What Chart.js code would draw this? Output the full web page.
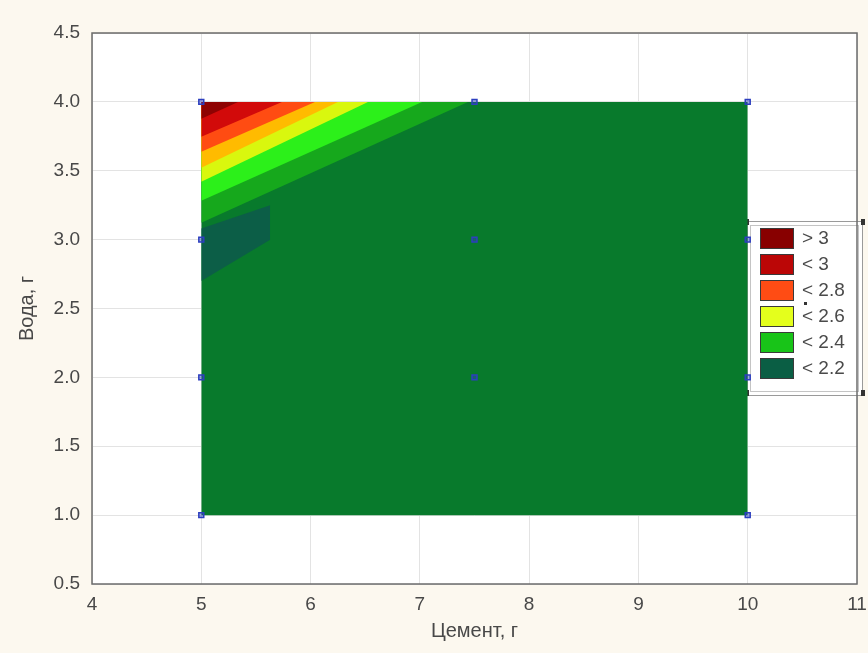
<!DOCTYPE html>
<html>
<head>
<meta charset="utf-8">
<script src="https://cdn.jsdelivr.net/npm/chart.js@4/dist/chart.umd.min.js"></script>
<style>
  body { margin: 0; background: #fcf8ef; }
  canvas { display: block; }
</style>
</head>
<body>
<canvas id="contourChart" width="868" height="653"></canvas>
<script>
// design points (cement, water)
const designX = [5, 7.5, 10, 5, 7.5, 10, 5, 7.5, 10, 5, 10];
const designY = [4, 4, 4, 3, 3, 3, 2, 2, 2, 1, 1];

// fitted surface domain
const domainX = [5, 10];
const domainY = [1, 4];
const baseColor = '#087a2c';

// contour level lines: each runs from (5, levelLeftY) on the left edge to (levelTopX, 4) on the top edge
const levelLeftY = [3.123, 3.283, 3.42, 3.522, 3.638, 3.746, 3.877];
const levelTopX = [7.44, 7.02, 6.525, 6.25, 6.04, 5.738, 5.336];
const levelColors = ['#16a81c', '#2cf01a', '#d9f70e', '#ffbb00', '#ff4c12', '#d20a0a', '#8e0202'];

// low pocket near the left edge
const pocketX = [5, 5.63];
const pocketTopY = [3.08, 3.25];
const pocketBottomY = [2.7, 3.0];
const pocketColor = '#0c5e47';

const legendLabels = ['> 3', '< 3', '< 2.8', '< 2.6', '< 2.4', '< 2.2'];
const legendColors = ['#880000', '#bb0606', '#ff4c14', '#e4ff1c', '#18c418', '#0a5e44'];

const FONT = "'Liberation Sans', Arial, sans-serif";
const TEXT = '#484848';

const datasets = [];

datasets.push({
    label: 'points',
    data: designX.map((x, i) => ({ x, y: designY[i] })),
    showLine: false,
    pointStyle: 'rect',
    pointRadius: 3.5,
    borderWidth: 1.5,
    borderColor: '#2d3fbf',
    backgroundColor: 'rgba(45,63,191,0.45)',
    order: 0
});

// bands, smallest triangle on top
levelLeftY.forEach((yl, i) => {
    datasets.push({
        label: 'level' + i,
        data: [{ x: domainX[0], y: yl }, { x: levelTopX[i], y: domainY[1] }],
        showLine: true,
        borderWidth: 0,
        borderColor: 'rgba(0,0,0,0)',
        pointRadius: 0,
        backgroundColor: levelColors[i],
        fill: { value: domainY[1] },
        order: 20 - i
    });
});

datasets.push({
    label: 'pocketTop',
    data: pocketX.map((x, i) => ({ x, y: pocketTopY[i] })),
    showLine: true,
    borderWidth: 0,
    borderColor: 'rgba(0,0,0,0)',
    pointRadius: 0,
    fill: false,
    order: 30
});
datasets.push({
    label: 'pocket',
    data: pocketX.map((x, i) => ({ x, y: pocketBottomY[i] })),
    showLine: true,
    borderWidth: 0,
    borderColor: 'rgba(0,0,0,0)',
    pointRadius: 0,
    backgroundColor: pocketColor,
    fill: '-1',
    order: 30
});

datasets.push({
    label: 'base',
    data: domainX.map(x => ({ x, y: domainY[0] })),
    showLine: true,
    borderWidth: 0,
    borderColor: 'rgba(0,0,0,0)',
    pointRadius: 0,
    backgroundColor: baseColor,
    fill: { value: domainY[1] },
    order: 40
});

const backdrop = {
    id: 'backdrop',
    beforeDraw(chart) {
        const { ctx, chartArea: a } = chart;
        ctx.save();
        ctx.fillStyle = '#fcf8ef';
        ctx.fillRect(0, 0, chart.width, chart.height);
        ctx.fillStyle = '#ffffff';
        ctx.fillRect(a.left, a.top, a.right - a.left, a.bottom - a.top);
        ctx.restore();
    },
    afterDatasetsDraw(chart) {
        const { ctx, chartArea: a } = chart;
        ctx.save();
        ctx.strokeStyle = '#6b6b6b';
        ctx.lineWidth = 1.5;
        ctx.strokeRect(a.left, a.top, a.right - a.left, a.bottom - a.top);
        ctx.restore();
    }
};

const levelLegend = {
    id: 'levelLegend',
    beforeDatasetsDraw(chart) {
        const ctx = chart.ctx;
        const x = 747, y = 221, w = 115, h = 174;
        ctx.save();
        ctx.fillStyle = '#ffffff';
        ctx.fillRect(x, y, w, h);
        ctx.strokeStyle = '#9a9a9a';
        ctx.lineWidth = 1;
        ctx.strokeRect(x + 0.5, y + 0.5, w, h);
        ctx.strokeStyle = '#c4c4c4';
        ctx.strokeRect(x + 3.5, y + 4.5, w - 7, h - 8);

        ctx.font = '19px ' + FONT;
        ctx.textBaseline = 'middle';
        legendLabels.forEach((lab, i) => {
            const sy = y + 7 + i * 26;
            ctx.fillStyle = legendColors[i];
            ctx.fillRect(x + 13, sy, 34, 21);
            ctx.strokeStyle = '#3a3a3a';
            ctx.strokeRect(x + 13.5, sy + 0.5, 33, 20);
            ctx.fillStyle = '#4a4a4a';
            ctx.fillText(lab, x + 55, sy + 11);
        });

        // resize handles
        ctx.fillStyle = '#333';
        [[x - 2, y - 2], [x + w - 1, y - 2], [x - 2, y + h - 5], [x + w - 1, y + h - 5]].forEach(([hx, hy]) => {
            ctx.fillRect(hx, hy, 4, 6);
        });
        ctx.fillRect(x + 57, y + 81, 3, 3);
        ctx.restore();
    }
};

new Chart(document.getElementById('contourChart'), {
    type: 'scatter',
    data: { datasets },
    options: {
        responsive: false,
        animation: false,
        layout: { padding: { top: 33, right: 11, left: 0, bottom: 0 } },
        plugins: {
            legend: { display: false },
            tooltip: { enabled: false }
        },
        scales: {
            x: {
                type: 'linear',
                min: 4,
                max: 11,
                ticks: { stepSize: 1, padding: 9, color: TEXT, font: { size: 19, family: FONT } },
                grid: { color: '#e3e3e3', drawTicks: false },
                border: { display: false },
                title: { display: true, text: 'Цемент, г', color: TEXT, font: { size: 20, family: FONT }, padding: { bottom: 10 } },
                afterFit(scale) {
                    scale.height = 69;
                    scale.paddingLeft = 0;
                    scale.paddingRight = 0;
                }
            },
            y: {
                type: 'linear',
                min: 0.5,
                max: 4.5,
                ticks: { stepSize: 0.5, padding: 12, color: TEXT, font: { size: 19, family: FONT }, callback: v => v.toFixed(1) },
                grid: { color: '#e3e3e3', drawTicks: false },
                border: { display: false },
                title: { display: true, text: 'Вода, г', color: TEXT, font: { size: 20, family: FONT }, padding: { top: 15 } },
                afterFit(scale) {
                    scale.width = 92;
                    scale.paddingTop = 0;
                    scale.paddingBottom = 0;
                }
            }
        }
    },
    plugins: [backdrop, levelLegend]
});
</script>
</body>
</html>
